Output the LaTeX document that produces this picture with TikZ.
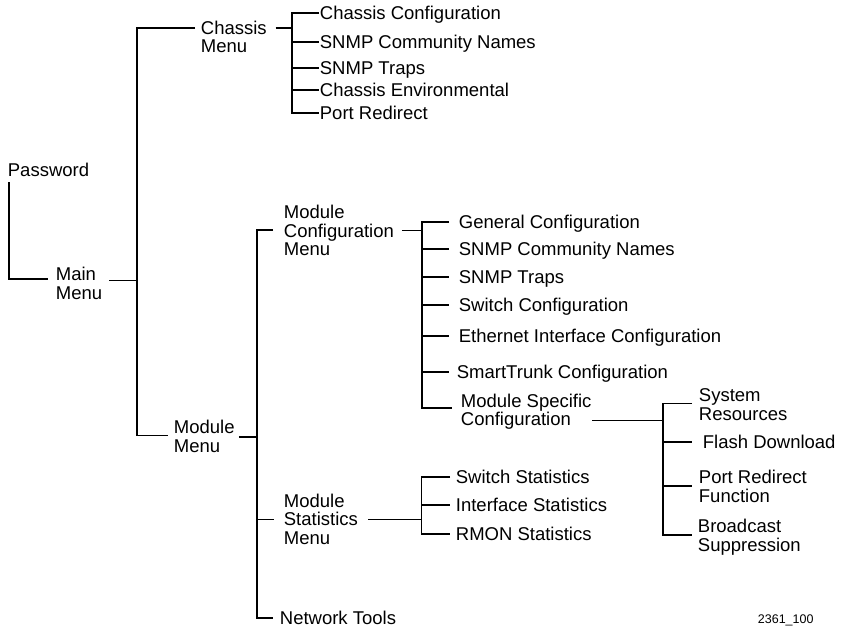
\documentclass[tikz,border=0pt]{standalone}
\usepackage{fontspec}
\setmainfont{Liberation Sans}

\begin{document}
\begin{tikzpicture}[x=1pt,y=-1pt,line width=1.8pt,
        leaf/.style={anchor=west,inner sep=0pt,text height=13pt,text depth=0pt,
                font=\fontsize{18.5}{18.5}\selectfont},
        menu/.style={anchor=base west,inner sep=0pt,align=left,
                font=\fontsize{18.5}{18.5}\selectfont},
        tag/.style={anchor=west,inner sep=0pt,font=\fontsize{12.5}{12.5}\selectfont}]
        \useasboundingbox (0,0) rectangle (842,631);

        % Left column: password and main menu
        \node[leaf] (pw) at (7,170) {Password};
        \node[menu] (mm) at (55,299) {Main\\Menu};

        % Second column
        \node[menu] (chm) at (200,53) {Chassis\\Menu};
        \node[menu] (modm) at (173,452) {Module\\Menu};

        % Chassis menu items
        \node[leaf] (cc) at (319,13) {Chassis Configuration};
        \node[leaf] (cs) at (319,42) {SNMP Community Names};
        \node[leaf] (ct) at (319,68) {SNMP Traps};
        \node[leaf] (ce) at (319,90) {Chassis Environmental};
        \node[leaf] (cr) at (319,113) {Port Redirect};

        % Module menu items
        \node[menu] (mcm) at (283,255.5) {Module\\Configuration\\Menu};
        \node[menu] (msm) at (283,544) {Module\\Statistics\\Menu};
        \node[leaf] (nt) at (279,618) {Network Tools};

        % Module configuration items
        \node[leaf] (gc) at (458,222) {General Configuration};
        \node[leaf] (sn) at (458,249) {SNMP Community Names};
        \node[leaf] (st) at (458,277) {SNMP Traps};
        \node[leaf] (sc) at (458,305) {Switch Configuration};
        \node[leaf] (ei) at (458,336) {Ethernet Interface Configuration};
        \node[leaf] (tc) at (456,372) {SmartTrunk Configuration};
        \node[menu] (msc) at (460,425.5) {Module Specific\\Configuration};

        % Module specific items
        \node[menu] (sr) at (698,420) {System\\Resources};
        \node[leaf] (fd) at (702,442) {Flash Download};
        \node[menu] (pr) at (698,502) {Port Redirect\\Function};
        \node[menu] (bs) at (697,551) {Broadcast\\Suppression};

        % Module statistics items
        \node[leaf] (ss) at (455,477) {Switch Statistics};
        \node[leaf] (is) at (455,505) {Interface Statistics};
        \node[leaf] (rs) at (455,534) {RMON Statistics};

        \node[tag] (fig) at (757,620) {2361\_100};

        % Bus points
        \coordinate (mbus) at (137,280.5);
        \coordinate (cbus) at (292,28);
        \coordinate (mdbus) at (257,437);
        \coordinate (cfbus) at (422,230.5);
        \coordinate (spbus) at (663,420.5);
        \coordinate (stbus) at (421.5,519.5);

        \coordinate (msmin) at ([xshift=-9pt,yshift=24.5pt]msm.base west);
        \coordinate (mscin) at ([xshift=-8pt,yshift=17.5pt]msc.base west);
        \coordinate (srin) at ([xshift=-6pt,yshift=16.5pt]sr.base west);
        \coordinate (prin) at ([xshift=-6pt,yshift=16pt]pr.base west);
        \coordinate (bsin) at ([xshift=-5pt,yshift=16pt]bs.base west);

        % Password down to main menu
        \draw ([xshift=2pt,yshift=-5pt]pw.south west) |- ([xshift=-7pt,yshift=20pt]mm.base west);

        % Main menu bus
        \draw ([xshift=6pt,yshift=18.5pt]mm.base east) -- (mbus);
        \draw ([xshift=-5pt,yshift=25pt]chm.base west) -| (mbus) |- ([xshift=-5pt,yshift=16.5pt]modm.base west);

        % Chassis menu bus
        \draw ([xshift=8pt,yshift=25pt]chm.base east) -- (cbus);
        \draw (cc.west) -| (cbus |- cr.west) -- (cr.west);
        \foreach \n in {cs,ct,ce}
                \draw (cbus |- \n.west) -- (\n.west);

        % Module menu bus
        \draw ([xshift=3.5pt,yshift=15pt]modm.base east) -- (mdbus);
        \draw ([xshift=-10pt,yshift=25.5pt]mcm.base west) -| (mdbus |- nt.west) -- ([xshift=-6pt]nt.west);
        \draw (mdbus |- msmin) -- (msmin);

        % Module configuration bus
        \draw ([xshift=7pt,yshift=25pt]mcm.base east) -- (cfbus);
        \draw ([xshift=-9pt]gc.west) -| (cfbus |- mscin) -- (mscin);
        \foreach \n in {sn,st,sc,ei}
                \draw (cfbus |- \n.west) -- ([xshift=-9pt]\n.west);
        \draw (cfbus |- tc.west) -- ([xshift=-7pt]tc.west);

        % Module specific bus
        \draw ([yshift=5pt]msc.base east) -- (spbus);
        \draw (srin) -| (spbus |- bsin) -- (bsin);
        \draw (spbus |- fd.west) -- ([xshift=-10pt]fd.west);
        \draw (spbus |- prin) -- (prin);

        % Module statistics bus
        \draw ([xshift=9.5pt,yshift=24.5pt]msm.base east) -- (stbus);
        \draw ([xshift=-5pt]ss.west) -| (stbus |- rs.west) -- ([xshift=-5pt]rs.west);
        \draw (stbus |- is.west) -- ([xshift=-5pt]is.west);
\end{tikzpicture}
\end{document}
